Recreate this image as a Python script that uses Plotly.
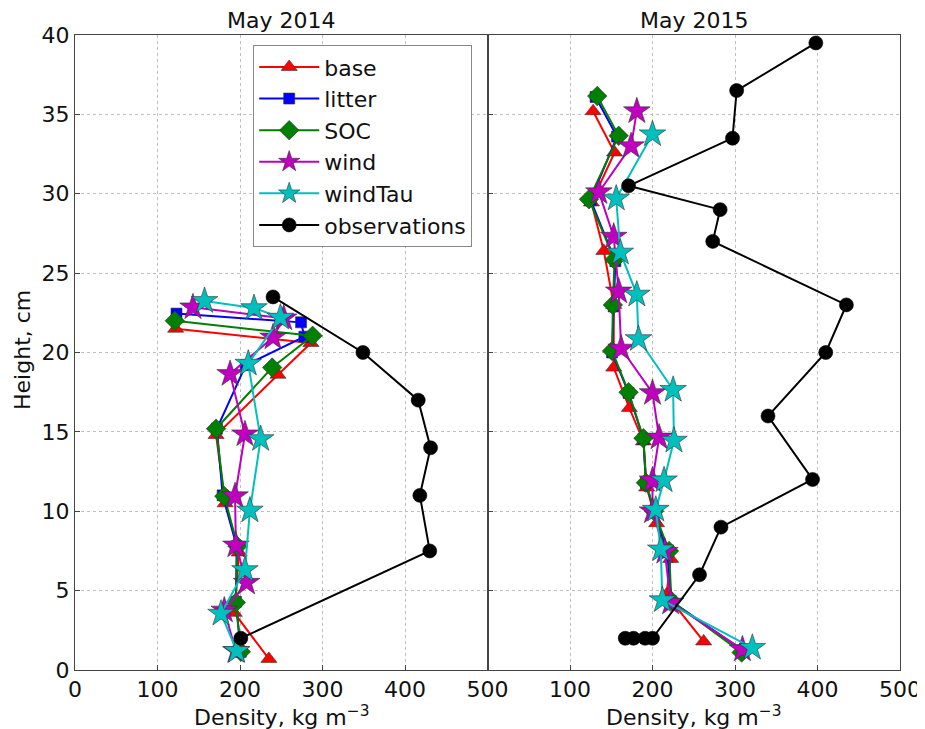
import plotly.graph_objects as go

# ---------------- data: May 2014 ----------------
base_h14 = [21.5, 20.6, 18.6, 14.8, 10.5, 7.4, 3.6, 0.7]
base_d14 = [122, 286, 246, 171, 182, 199, 193, 235]

litter_h14 = [22.45, 21.9, 21.0, 19.2, 15.2, 11.0, 7.8, 4.3, 1.15]
litter_d14 = [123, 274, 278, 207, 172, 179, 196, 195, 201]

soc_h14 = [22.0, 21.05, 19.05, 15.2, 10.95, 7.8, 4.25, 1.15]
soc_d14 = [121, 288, 239, 171, 181, 197, 195, 201]

wind_h14 = [22.85, 22.15, 20.95, 18.65, 14.85, 10.95, 7.85, 5.5, 3.75, 1.2]
wind_d14 = [143, 253, 240, 188, 206, 194, 195, 208, 181, 195]

windtau_h14 = [23.25, 22.8, 22.2, 19.3, 14.55, 10.05, 6.3, 3.55, 1.2]
windtau_d14 = [157, 217, 249, 210, 225, 212, 206, 177, 196]

obs_h14 = [23.5, 20.0, 17.0, 14.0, 11.0, 7.5, 2.0]
obs_d14 = [240, 349, 416, 431, 418, 430, 201]

# ---------------- data: May 2015 ----------------
base_h15 = [35.2, 32.6, 29.45, 26.4, 23.0, 19.05, 16.5, 14.4, 11.5, 9.25, 7.0, 4.75, 1.8]
base_d15 = [128, 154, 126, 141, 153, 153, 172, 189, 193, 205, 222, 217, 262]

litter_h15 = [36.1, 33.6, 29.6, 25.75, 22.9, 20.0, 17.45, 14.55, 11.8, 10.0, 7.45, 4.35, 1.25]
litter_d15 = [131, 157, 125, 155, 153, 151, 171, 189, 192, 202, 218, 222, 309]

soc_h15 = [36.15, 33.65, 29.65, 25.85, 23.0, 20.1, 17.5, 14.6, 11.8, 10.0, 7.5, 4.35, 1.1]
soc_d15 = [133, 159, 123, 154, 152, 151, 171, 189, 192, 202, 220, 223, 308]

wind_h15 = [35.2, 33.0, 30.1, 27.3, 23.85, 20.25, 17.45, 14.65, 11.95, 10.0, 7.45, 4.25, 1.3]
wind_d15 = [181, 174, 135, 153, 159, 162, 200, 208, 200, 200, 215, 222, 309]

windtau_h15 = [33.75, 29.7, 26.3, 23.65, 20.85, 17.65, 14.45, 11.95, 10.1, 7.6, 4.4, 1.4]
windtau_d15 = [200, 156, 161, 181, 183, 225, 226, 214, 204, 210, 212, 321]

obs_h15 = [39.5, 36.5, 33.5, 30.5, 29.0, 27.0, 23.0, 20.0, 16.0, 12.0, 9.0, 6.0, 2.0, 2.0, 2.0, 2.0]
obs_d15 = [398, 302, 297, 171, 282, 273, 435, 410, 340, 394, 283, 257, 200, 191, 177, 167]

series_names = ["base", "litter", "SOC", "wind", "windTau", "observations"]
x_ticks = [0, 100, 200, 300, 400, 500]
y_ticks = [0, 5, 10, 15, 20, 25, 30, 35, 40]

styles = {
    "base": dict(color="#ff0000", symbol="triangle-up", size=14),
    "litter": dict(color="#0000ff", symbol="square", size=11),
    "SOC": dict(color="#008000", symbol="diamond", size=15),
    "wind": dict(color="#bf00bf", symbol="star", size=20),
    "windTau": dict(color="#00bfbf", symbol="star", size=20),
    "observations": dict(color="#000000", symbol="circle", size=14),
}

data14 = {
    "base": (base_d14, base_h14), "litter": (litter_d14, litter_h14),
    "SOC": (soc_d14, soc_h14), "wind": (wind_d14, wind_h14),
    "windTau": (windtau_d14, windtau_h14), "observations": (obs_d14, obs_h14),
}
data15 = {
    "base": (base_d15, base_h15), "litter": (litter_d15, litter_h15),
    "SOC": (soc_d15, soc_h15), "wind": (wind_d15, wind_h15),
    "windTau": (windtau_d15, windtau_h15), "observations": (obs_d15, obs_h15),
}

FONT = "DejaVu Sans"
TXT = "#111111"
fig = go.Figure()

for name in series_names:
    st = styles[name]
    for data, xa, show in ((data14, "x", True), (data15, "x2", False)):
        d, h = data[name]
        fig.add_trace(go.Scatter(
            x=d, y=h, xaxis=xa, yaxis="y" if xa == "x" else "y2",
            mode="lines+markers", name=name, showlegend=show,
            legendgroup=name,
            line=dict(color=st["color"], width=2),
            marker=dict(symbol=st["symbol"], size=st["size"], color=st["color"],
                        line=dict(color="#333333" if name != "observations" else "#000000",
                                  width=0.6)),
        ))

grid = dict(showgrid=True, gridcolor="#c0c0c0", griddash="dot", gridwidth=1,
            zeroline=False, showline=True, mirror=True, linecolor="#444444",
            linewidth=1, ticks="inside", ticklen=5, tickcolor="#444444",
            automargin=False)

fig.update_layout(
    width=917, height=721,
    paper_bgcolor="white", plot_bgcolor="white",
    margin=dict(l=67, r=25, t=27, b=59),
    font=dict(family=FONT, size=22, color=TXT),
    xaxis=dict(domain=[0, 0.5], anchor="y", range=[0, 500], tickvals=x_ticks,
               tickfont=dict(family=FONT, size=22, color=TXT), **grid),
    xaxis2=dict(domain=[0.5, 1], anchor="y2", range=[0, 500], tickvals=x_ticks[1:],
                tickfont=dict(family=FONT, size=22, color=TXT), **grid),
    yaxis=dict(range=[0, 40], tickvals=y_ticks, anchor="x",
               tickfont=dict(family=FONT, size=22, color=TXT), **grid),
    yaxis2=dict(range=[0, 40], tickvals=y_ticks, anchor="x2", matches="y",
                showticklabels=False, **grid),
    legend=dict(x=0.216, y=0.984, xanchor="left", yanchor="top",
                bgcolor="white", bordercolor="#888888", borderwidth=1,
                font=dict(family=FONT, size=22, color=TXT),
                tracegroupgap=0, itemwidth=60),
    annotations=[
        dict(text="May 2014", x=0.25, y=1, xref="paper", yref="paper",
             xanchor="center", yanchor="bottom", yshift=0, showarrow=False,
             font=dict(family=FONT, size=22, color=TXT)),
        dict(text="May 2015", x=0.75, y=1, xref="paper", yref="paper",
             xanchor="center", yanchor="bottom", yshift=0, showarrow=False,
             font=dict(family=FONT, size=22, color=TXT)),
        dict(text="Density, kg m<sup>−3</sup>", x=0.25, y=0, xref="paper", yref="paper",
             xanchor="center", yanchor="middle", yshift=-46, showarrow=False,
             font=dict(family=FONT, size=22, color=TXT)),
        dict(text="Density, kg m<sup>−3</sup>", x=0.75, y=0, xref="paper", yref="paper",
             xanchor="center", yanchor="middle", yshift=-46, showarrow=False,
             font=dict(family=FONT, size=22, color=TXT)),
        dict(text="Height, cm", x=0, y=0.504, xref="paper", yref="paper",
             xanchor="center", yanchor="middle", xshift=-52, textangle=-90,
             showarrow=False, font=dict(family=FONT, size=22, color=TXT)),
    ],
)

fig.write_html("out.html")
